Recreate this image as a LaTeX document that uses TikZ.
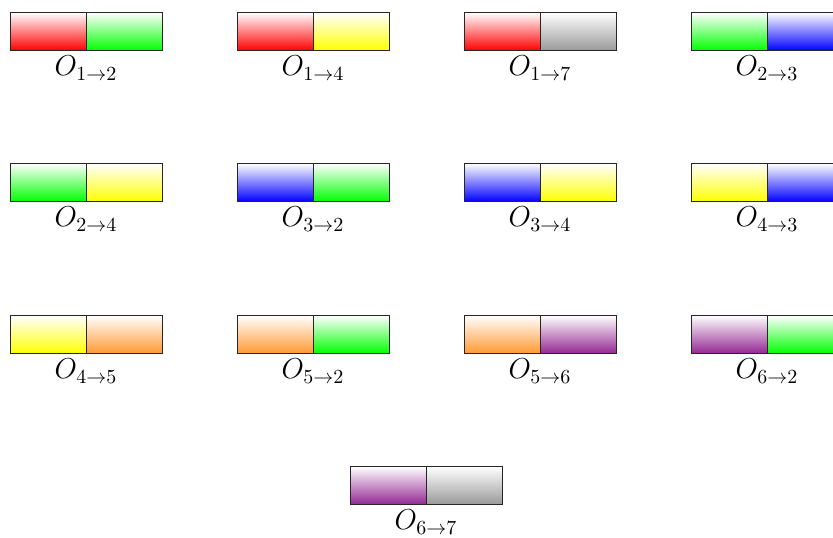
\documentclass[tikz,border=0pt]{standalone}
\usepackage{tikz}
\tikzset{
  cellbox/.style={draw=black!85, line width=0.5pt, rectangle, minimum width=38pt, minimum height=19pt, inner sep=0pt, anchor=north west, top color=white, bottom color=#1},
  oplabel/.style={font=\Large, inner sep=0pt}
}
\newcommand{\opair}[7]{%
  \node[cellbox=#4] (#1a) at (#2,#3) {};
  \node[cellbox=#5] (#1b) at (#2+76,#3) {};
  \node[oplabel] (#1l) at (#2+76,#3+56) {$O_{#6\to#7}$};
}
\begin{document}
\begin{tikzpicture}[x=0.5pt,y=-0.5pt]
\useasboundingbox (0,0) rectangle (833,537);
\opair{pa}{10}{12}{red}{green}{1}{2}
\opair{pb}{237}{12}{red}{yellow}{1}{4}
\opair{pc}{464}{12}{red}{black!40}{1}{7}
\opair{pd}{691}{12}{green}{blue}{2}{3}
\opair{pe}{10}{163}{green}{yellow}{2}{4}
\opair{pf}{237}{163}{blue}{green}{3}{2}
\opair{pg}{464}{163}{blue}{yellow}{3}{4}
\opair{ph}{691}{163}{yellow}{blue}{4}{3}
\opair{pi}{10}{315}{yellow}{orange!80}{4}{5}
\opair{pj}{237}{315}{orange!80}{green}{5}{2}
\opair{pk}{464}{315}{orange!80}{violet!85}{5}{6}
\opair{pl}{691}{315}{violet!85}{green}{6}{2}
\opair{pm}{350}{466}{violet!85}{black!40}{6}{7}
\end{tikzpicture}
\end{document}
